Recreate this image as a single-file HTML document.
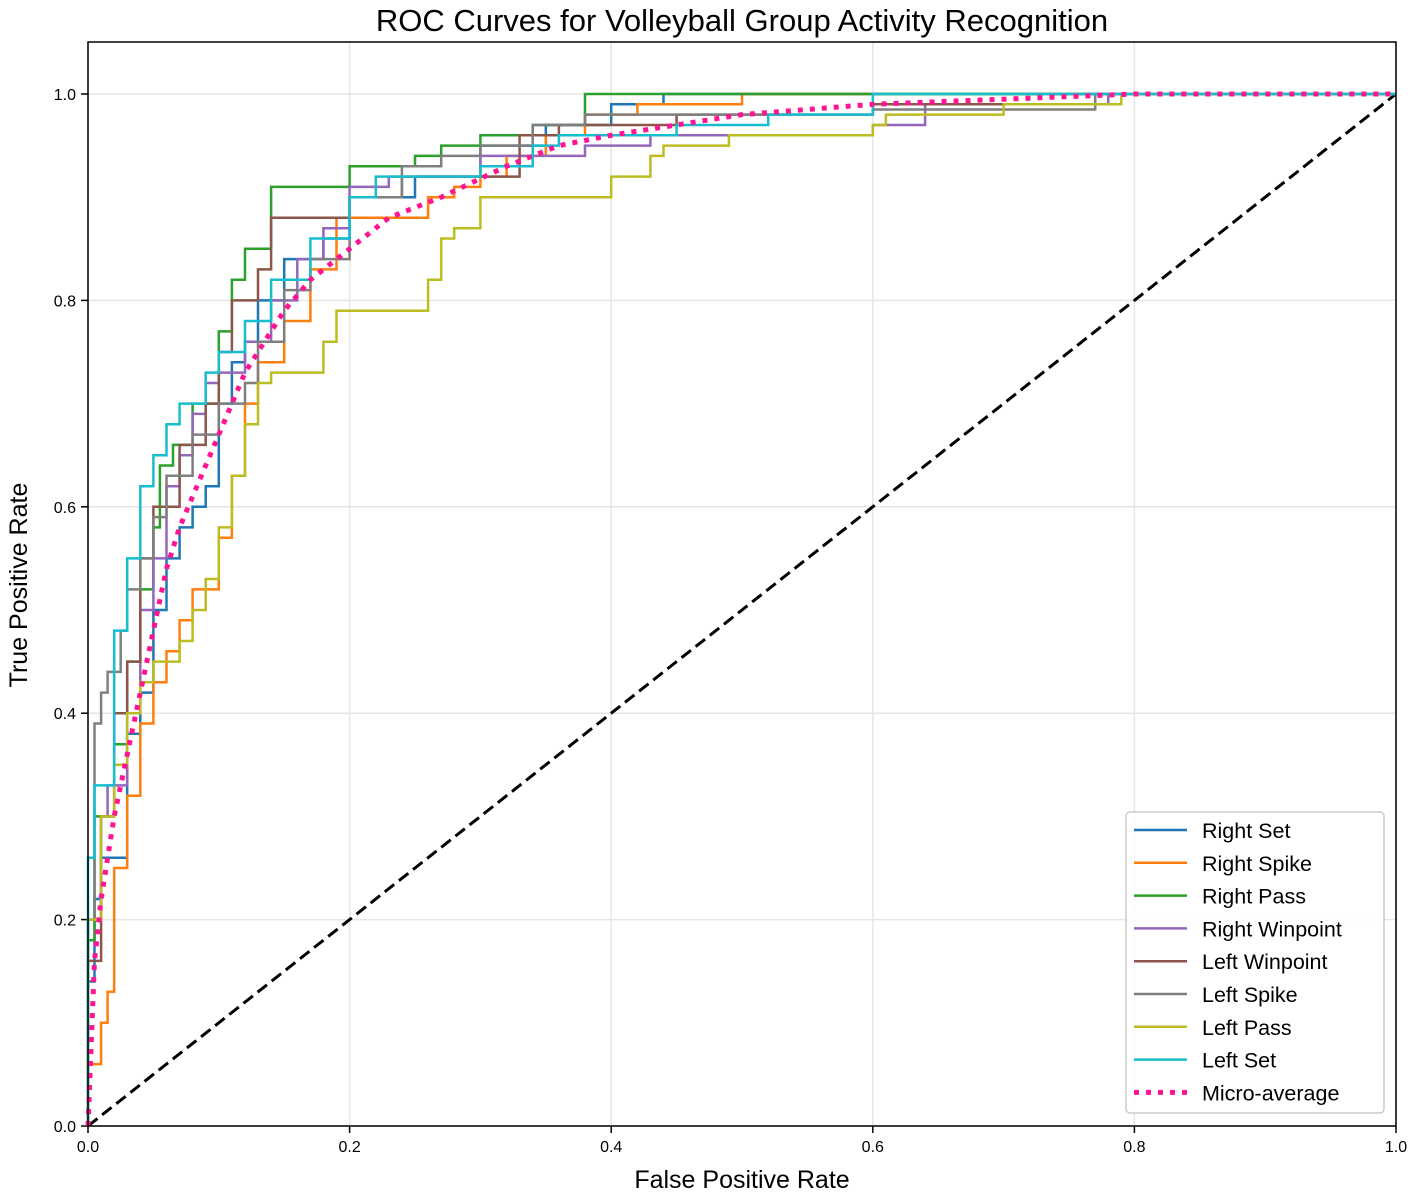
<!DOCTYPE html>
<html><head><meta charset="utf-8"><style>
html,body{margin:0;padding:0;background:#fff}
svg{display:block;font-family:"Liberation Sans","DejaVu Sans",sans-serif}
</style></head><body>
<svg id="chart" width="1418" height="1196" viewBox="0 0 1418 1196" xmlns="http://www.w3.org/2000/svg">
<text x="742" y="31" text-anchor="middle" font-size="31" fill="#000">ROC Curves for Volleyball Group Activity Recognition</text>
<g id="grid"></g>
<g id="ticks"></g>
<line x1="88" y1="1126" x2="1396" y2="94" stroke="#000" stroke-width="3" stroke-dasharray="12,6"/>
<g id="curves"></g>
<rect x="88" y="42" width="1308" height="1084" fill="none" stroke="#000" stroke-width="1.5"/>
<text x="742" y="1188" text-anchor="middle" font-size="25">False Positive Rate</text>
<text transform="translate(27,585) rotate(-90)" text-anchor="middle" font-size="25">True Positive Rate</text>
<g id="legend">
<rect x="1126" y="812" width="258" height="301" rx="4" fill="#fff" fill-opacity="0.85" stroke="#ccc" stroke-width="1.5"/>
</g>
</svg>
<script>
const xTicks=[0,0.2,0.4,0.6,0.8,1.0];
const yTicks=[0,0.2,0.4,0.6,0.8,1.0];
const seriesNames=["Right Set","Right Spike","Right Pass","Right Winpoint","Left Winpoint","Left Spike","Left Pass","Left Set","Micro-average"];
const seriesColors=["#1f77b4","#ff7f0e","#2ca02c","#9467bd","#8c564b","#7f7f7f","#bcbd22","#17becf","#ff1493"];
const rightSet=[[0,0],[0.005,0.14],[0.01,0.22],[0.015,0.26],[0.03,0.26],[0.03,0.3],[0.04,0.38],[0.05,0.42],[0.06,0.5],[0.07,0.55],[0.08,0.58],[0.09,0.6],[0.1,0.62],[0.11,0.7],[0.12,0.74],[0.13,0.76],[0.15,0.8],[0.18,0.84],[0.2,0.86],[0.25,0.9],[0.3,0.92],[0.35,0.95],[0.4,0.97],[0.44,0.99],[0.445,1],[1,1]];
const rightSpike=[[0,0],[0.01,0.06],[0.015,0.1],[0.02,0.13],[0.02,0.2],[0.03,0.25],[0.04,0.32],[0.05,0.39],[0.06,0.43],[0.07,0.46],[0.08,0.49],[0.1,0.52],[0.11,0.57],[0.12,0.63],[0.13,0.7],[0.15,0.74],[0.17,0.78],[0.19,0.83],[0.22,0.88],[0.26,0.88],[0.28,0.9],[0.3,0.91],[0.32,0.92],[0.35,0.94],[0.38,0.96],[0.42,0.98],[0.5,0.99],[0.6,1],[1,1]];
const rightPass=[[0,0],[0.005,0.18],[0.02,0.3],[0.03,0.37],[0.04,0.45],[0.05,0.52],[0.055,0.58],[0.065,0.64],[0.08,0.66],[0.1,0.7],[0.11,0.77],[0.12,0.82],[0.14,0.85],[0.155,0.91],[0.2,0.91],[0.25,0.93],[0.27,0.94],[0.3,0.95],[0.34,0.96],[0.38,0.97],[0.4,1.0],[1,1]];
const rightWinpoint=[[0,0],[0.01,0.2],[0.015,0.3],[0.03,0.33],[0.04,0.4],[0.05,0.5],[0.06,0.55],[0.07,0.62],[0.08,0.65],[0.09,0.69],[0.1,0.72],[0.12,0.73],[0.14,0.76],[0.16,0.8],[0.18,0.84],[0.2,0.87],[0.23,0.91],[0.3,0.92],[0.38,0.94],[0.43,0.95],[0.5,0.96],[0.6,0.96],[0.64,0.97],[0.65,0.99],[0.78,0.99],[0.8,1],[1,1]];
const leftWinpoint=[[0,0],[0.01,0.16],[0.02,0.3],[0.03,0.4],[0.04,0.45],[0.05,0.55],[0.07,0.6],[0.09,0.66],[0.1,0.7],[0.11,0.75],[0.13,0.8],[0.14,0.83],[0.155,0.88],[0.2,0.88],[0.24,0.9],[0.33,0.92],[0.36,0.96],[0.45,0.97],[0.5,0.98],[0.6,0.98],[0.77,0.99],[0.775,1],[1,1]];
const leftSpike=[[0,0],[0.005,0.2],[0.01,0.39],[0.015,0.42],[0.025,0.44],[0.03,0.48],[0.04,0.52],[0.05,0.55],[0.06,0.59],[0.08,0.63],[0.1,0.67],[0.12,0.7],[0.13,0.72],[0.15,0.76],[0.17,0.81],[0.2,0.84],[0.24,0.9],[0.27,0.93],[0.3,0.94],[0.34,0.95],[0.38,0.97],[0.45,0.98],[0.6,0.98],[0.77,0.985],[0.775,1],[1,1]];
const leftPass=[[0,0],[0.01,0.2],[0.02,0.3],[0.03,0.35],[0.04,0.4],[0.05,0.43],[0.07,0.45],[0.08,0.47],[0.09,0.5],[0.1,0.53],[0.11,0.58],[0.12,0.63],[0.13,0.68],[0.14,0.72],[0.15,0.73],[0.18,0.73],[0.19,0.76],[0.2,0.79],[0.26,0.79],[0.27,0.82],[0.28,0.86],[0.3,0.87],[0.32,0.9],[0.4,0.9],[0.43,0.92],[0.44,0.94],[0.49,0.95],[0.5,0.96],[0.6,0.96],[0.61,0.97],[0.7,0.98],[0.71,0.99],[0.79,0.99],[0.8,1],[1,1]];
const leftSet=[[0,0],[0.005,0.26],[0.02,0.33],[0.03,0.48],[0.04,0.55],[0.05,0.62],[0.06,0.65],[0.07,0.68],[0.09,0.7],[0.1,0.73],[0.12,0.75],[0.14,0.78],[0.17,0.82],[0.2,0.86],[0.22,0.9],[0.3,0.92],[0.34,0.93],[0.36,0.95],[0.45,0.96],[0.52,0.97],[0.6,0.98],[0.61,1],[1,1]];
const microAverage=[[0,0],[0.005,0.16],[0.01,0.22],[0.02,0.3],[0.03,0.36],[0.04,0.42],[0.05,0.48],[0.06,0.54],[0.07,0.58],[0.08,0.61],[0.09,0.64],[0.1,0.67],[0.11,0.7],[0.12,0.73],[0.13,0.75],[0.15,0.79],[0.17,0.82],[0.2,0.85],[0.23,0.88],[0.27,0.9],[0.32,0.93],[0.36,0.95],[0.4,0.96],[0.5,0.98],[0.6,0.99],[0.7,0.995],[0.8,1],[1,1]];
const seriesData=[rightSet,rightSpike,rightPass,rightWinpoint,leftWinpoint,leftSpike,leftPass,leftSet,microAverage];

const NS="http://www.w3.org/2000/svg";
const X=v=>88+v*1308, Y=v=>1126-v*1032;
function mk(tag,attrs,parent){const e=document.createElementNS(NS,tag);for(const k in attrs)e.setAttribute(k,attrs[k]);parent.appendChild(e);return e;}
const grid=document.getElementById('grid'),ticks=document.getElementById('ticks');
xTicks.forEach(t=>{
  const g=mk('line',{x1:X(t),x2:X(t),y1:42,y2:1126,stroke:'#e6e6e6','stroke-width':1.5},grid);
  
  
  mk('line',{x1:X(t),x2:X(t),y1:1126,y2:1133,stroke:'#000','stroke-width':1.5},ticks);
  const tx=mk('text',{x:X(t),y:1152,'text-anchor':'middle','font-size':16},ticks);
  tx.textContent=t.toFixed(1);
  
  
});
yTicks.forEach(t=>{
  const g=mk('line',{x1:88,x2:1396,y1:Y(t),y2:Y(t),stroke:'#e6e6e6','stroke-width':1.5},grid);
  
  
  mk('line',{x1:81,x2:88,y1:Y(t),y2:Y(t),stroke:'#000','stroke-width':1.5},ticks);
  const tx=mk('text',{x:76,y:Y(t)+6,'text-anchor':'end','font-size':16},ticks);
  tx.textContent=t.toFixed(1);
  
  
});
const curves=document.getElementById('curves'),legend=document.getElementById('legend');
seriesData.forEach((pts,i)=>{
  const micro=i===8;
  let d='M'+X(pts[0][0]).toFixed(1)+','+Y(pts[0][1]).toFixed(1);
  for(let j=1;j<pts.length;j++){
    if(micro) d+=' L'+X(pts[j][0]).toFixed(1)+','+Y(pts[j][1]).toFixed(1);
    else d+=' V'+Y(pts[j][1]).toFixed(1)+' H'+X(pts[j][0]).toFixed(1);
  }
  const p=mk('path',{d:d,fill:'none',stroke:seriesColors[i],'stroke-width':micro?5:2.5,'stroke-dasharray':micro?'5,7':'none','stroke-linejoin':'miter'},curves);
  
  
  const ly=830+i*32.8;
  const ll=mk('line',{x1:1134,x2:1187,y1:ly,y2:ly,stroke:seriesColors[i],'stroke-width':micro?5:2.5,'stroke-dasharray':micro?'5,7':'none'},legend);
  
  
  const lt=mk('text',{x:1202,y:ly+8,'font-size':21.5},legend);
  lt.textContent=seriesNames[i];
  
  
});
</script>
</body></html>
